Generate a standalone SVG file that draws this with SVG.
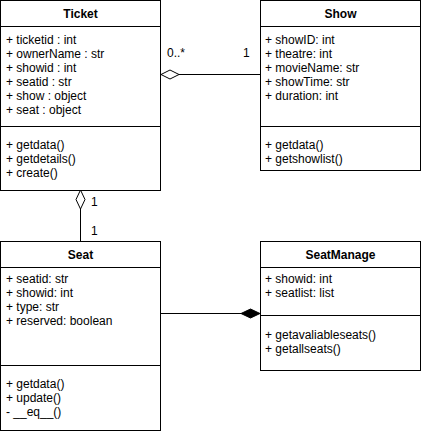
<svg xmlns="http://www.w3.org/2000/svg" width="421" height="434" viewBox="0 0 421 434">
<style>
.box{fill:#fff;stroke:#000;stroke-width:1}
.ln{stroke:#000;stroke-width:1;fill:none}
text{font-family:"Liberation Sans",Arial,sans-serif;font-size:12px;fill:#000}
.t{font-weight:bold;text-anchor:middle}
</style>
<rect width="421" height="434" fill="#fff"/>
<g id="connectors">
<line class="ln" x1="179" y1="74.5" x2="260" y2="74.5"/>
<polygon points="161,74.5 170,70 179,74.5 170,79" fill="#fff" stroke="#000"/>
<text x="167" y="57">0..*</text>
<text x="243" y="57">1</text>
<line class="ln" x1="80.5" y1="209" x2="80.5" y2="241"/>
<polygon points="80.5,190 85,199.5 80.5,209 76,199.5" fill="#fff" stroke="#000"/>
<text x="91" y="206">1</text>
<text x="91" y="235">1</text>
<line class="ln" x1="160" y1="313.5" x2="241" y2="313.5"/>
<polygon points="241,313.5 250.5,309 260,313.5 250.5,318" fill="#000" stroke="#000"/>
</g>
<g id="ticket">
<rect class="box" x="0.5" y="0.5" width="160" height="190"/>
<line class="ln" x1="0.5" y1="26.5" x2="160.5" y2="26.5"/>
<line class="ln" x1="0.5" y1="126.5" x2="160.5" y2="126.5"/>
<text class="t" x="80.5" y="18">Ticket</text>
<text x="6" y="44">+ ticketid : int</text>
<text x="6" y="58">+ ownerName : str</text>
<text x="6" y="72">+ showid : int</text>
<text x="6" y="86">+ seatid : str</text>
<text x="6" y="100">+ show : object</text>
<text x="6" y="114">+ seat : object</text>
<text x="6" y="149">+ getdata()</text>
<text x="6" y="163">+ getdetails()</text>
<text x="6" y="177">+ create()</text>
</g>
<g id="show">
<rect class="box" x="260.5" y="0.5" width="160" height="170"/>
<line class="ln" x1="260.5" y1="26.5" x2="420.5" y2="26.5"/>
<line class="ln" x1="260.5" y1="126.5" x2="420.5" y2="126.5"/>
<text class="t" x="340.5" y="18">Show</text>
<text x="265" y="44">+ showID: int</text>
<text x="265" y="58">+ theatre: int</text>
<text x="265" y="72">+ movieName: str</text>
<text x="265" y="86">+ showTime: str</text>
<text x="265" y="100">+ duration: int</text>
<text x="265" y="149">+ getdata()</text>
<text x="265" y="163">+ getshowlist()</text>
</g>
<g id="seat">
<rect class="box" x="0.5" y="241.5" width="160" height="189"/>
<line class="ln" x1="0.5" y1="267.5" x2="160.5" y2="267.5"/>
<line class="ln" x1="0.5" y1="365.5" x2="160.5" y2="365.5"/>
<text class="t" x="80.5" y="259">Seat</text>
<text x="6" y="283">+ seatid: str</text>
<text x="6" y="297">+ showid: int</text>
<text x="6" y="311">+ type: str</text>
<text x="6" y="325">+ reserved: boolean</text>
<text x="6" y="388">+ getdata()</text>
<text x="6" y="402">+ update()</text>
<text x="6" y="416">- __eq__()</text>
</g>
<g id="seatmanage">
<rect class="box" x="260.5" y="241.5" width="160" height="129"/>
<line class="ln" x1="260.5" y1="267.5" x2="420.5" y2="267.5"/>
<line class="ln" x1="260.5" y1="315.5" x2="420.5" y2="315.5"/>
<text class="t" x="340.5" y="259">SeatManage</text>
<text x="265" y="283">+ showid: int</text>
<text x="265" y="297">+ seatlist: list</text>
<text x="265" y="339">+ getavaliableseats()</text>
<text x="265" y="353">+ getallseats()</text>
</g>
</svg>
